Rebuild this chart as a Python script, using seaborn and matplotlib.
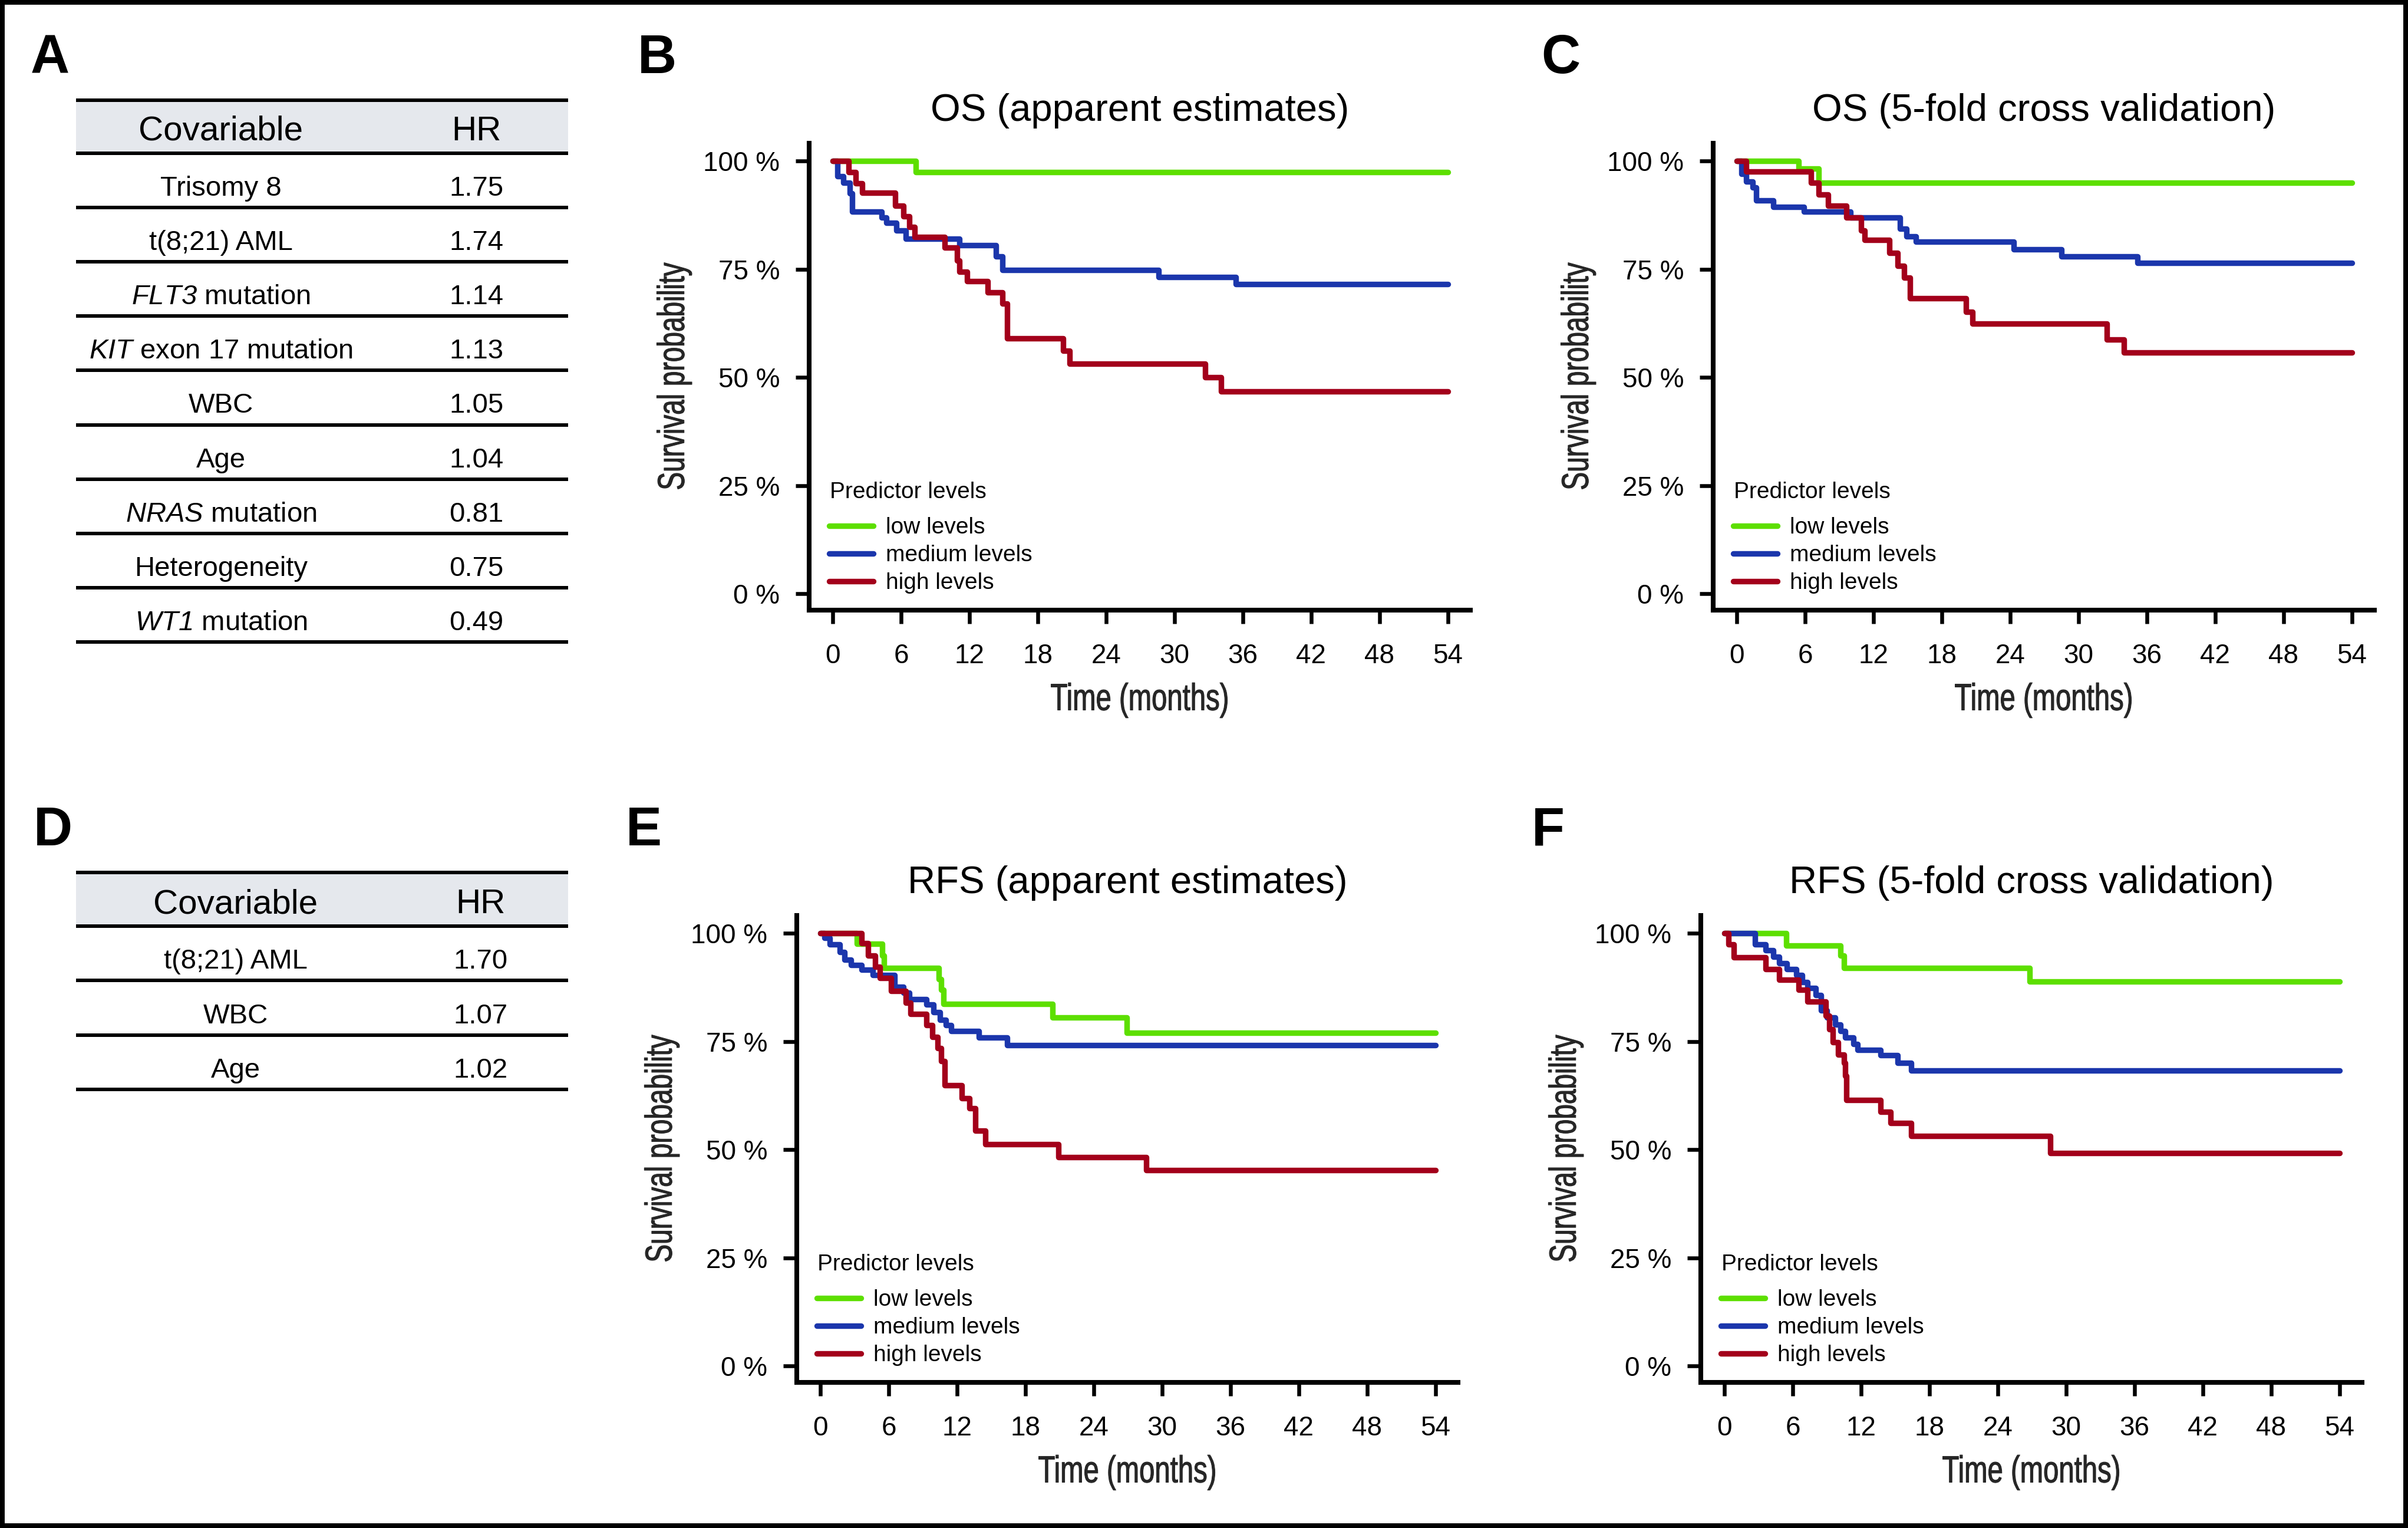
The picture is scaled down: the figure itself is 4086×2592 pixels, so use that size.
import numpy as np
import pandas as pd
import matplotlib
matplotlib.use("Agg")
import matplotlib.pyplot as plt
from matplotlib.patches import Rectangle
from matplotlib.patheffects import AbstractPathEffect
from matplotlib.transforms import Affine2D
import seaborn as sns

# ---------------- data ----------------
levels = ["low levels", "medium levels", "high levels"]
colors = ["#5ddf00", "#1b36ac", "#a3001b"]

# B: OS (apparent estimates)
os_app_low_t = [0, 7.3, 54]
os_app_low_s = [100, 97.4, 97.4]
os_app_med_t = [0, 0.4, 0.9, 1.5, 1.7, 4.3, 4.7, 5.6, 6.4, 11.1, 14.3, 14.9, 28.6, 35.4, 54]
os_app_med_s = [100, 96.5, 95.0, 92.5, 88.3, 87.0, 85.7, 84.0, 82.0, 80.5, 78.0, 74.8, 73.2, 71.5, 71.5]
os_app_high_t = [0, 1.4, 2.0, 2.6, 5.5, 6.2, 6.7, 7.2, 9.8, 10.9, 11.1, 11.8, 13.6, 14.9, 15.3,
                 20.2, 20.8, 32.7, 34.1, 54]
os_app_high_s = [100, 97.4, 94.8, 92.6, 89.6, 87.2, 84.8, 82.4, 80.0, 77.0, 74.4, 72.2, 69.6, 67.0, 59.0,
                 56.1, 53.1, 50.0, 46.8, 46.8]

# C: OS (5-fold cross validation)
os_cv_low_t = [0, 5.4, 7.2, 54]
os_cv_low_s = [100, 98.3, 95.0, 95.0]
os_cv_med_t = [0, 0.4, 0.8, 1.4, 1.7, 3.2, 5.9, 10.0, 14.3, 14.9, 15.7, 24.3, 28.5, 35.2, 54]
os_cv_med_s = [100, 97.0, 95.2, 93.9, 90.9, 89.4, 88.3, 87.0, 84.4, 82.6, 81.3, 79.6, 78.0, 76.4, 76.4]
os_cv_high_t = [0, 0.8, 6.5, 7.2, 8.0, 9.6, 10.9, 11.2, 13.4, 14.1, 14.7, 15.2, 20.1, 20.7, 32.5, 34.0, 54]
os_cv_high_s = [100, 97.6, 95.0, 92.2, 89.6, 87.0, 84.0, 81.8, 78.7, 75.7, 73.1, 68.3, 65.2, 62.4, 58.7,
                55.7, 55.7]

# E: RFS (apparent estimates)
rfs_app_low_t = [0, 3.2, 5.4, 5.6, 10.4, 10.6, 10.8, 20.4, 26.9, 54]
rfs_app_low_s = [100, 97.6, 94.9, 92.0, 89.4, 86.9, 83.7, 80.5, 77.0, 77.0]
rfs_app_med_t = [0, 0.35, 0.84, 1.7, 2.1, 2.7, 3.6, 4.6, 6.5, 7.3, 7.8, 9.3, 9.9, 10.5, 11.0, 11.5, 13.9,
                 16.4, 54]
rfs_app_med_s = [100, 98.9, 97.4, 95.7, 93.9, 92.6, 91.6, 90.4, 87.6, 86.2, 84.8, 83.5, 81.8, 80.0, 78.7,
                 77.4, 75.9, 74.1, 74.1]
rfs_app_high_t = [0, 3.6, 4.2, 4.8, 5.2, 6.2, 7.5, 7.9, 9.3, 9.8, 10.3, 10.6, 10.9, 12.4, 13.1, 13.6, 14.5,
                  20.9, 28.6, 54]
rfs_app_high_s = [100, 97.7, 94.8, 92.2, 89.6, 86.7, 83.9, 81.3, 78.7, 76.1, 73.5, 70.5, 64.8, 61.8, 59.6,
                  54.4, 51.3, 48.3, 45.3, 45.3]

# F: RFS (5-fold cross validation)
rfs_cv_low_t = [0, 5.4, 10.2, 10.5, 26.8, 54]
rfs_cv_low_s = [100, 97.2, 94.8, 92.0, 88.9, 88.9]
rfs_cv_med_t = [0, 2.7, 3.6, 4.3, 4.8, 5.5, 6.3, 6.8, 7.3, 8.0, 8.5, 9.0, 9.7, 10.2, 10.6, 11.3, 11.7,
                13.7, 15.2, 16.4, 54]
rfs_cv_med_s = [100, 97.4, 96.1, 94.5, 93.1, 91.7, 90.4, 88.7, 87.4, 85.7, 82.2, 80.5, 78.9, 77.4, 75.9,
                74.4, 73.1, 71.8, 70.0, 68.3, 68.3]
rfs_cv_high_t = [0, 0.35, 0.84, 3.6, 4.8, 6.5, 7.3, 8.9, 9.2, 9.5, 10.0, 10.5, 10.6, 10.7, 13.7, 14.6,
                 16.4, 28.6, 54]
rfs_cv_high_s = [100, 97.4, 94.4, 91.7, 89.3, 87.0, 84.2, 80.9, 77.8, 74.8, 72.0, 70.0, 67.0, 61.5, 58.7,
                 56.1, 53.1, 49.2, 49.2]

# tables A and D
covars_a = ["Trisomy 8", "t(8;21) AML", r"$\mathsf{FLT3}$ mutation", r"$\mathsf{KIT}$ exon 17 mutation",
            "WBC", "Age", r"$\mathsf{NRAS}$ mutation", "Heterogeneity", r"$\mathsf{WT1}$ mutation"]
hr_a = ["1.75", "1.74", "1.14", "1.13", "1.05", "1.04", "0.81", "0.75", "0.49"]
covars_d = ["t(8;21) AML", "WBC", "Age"]
hr_d = ["1.70", "1.07", "1.02"]

x_ticks = [0, 6, 12, 18, 24, 30, 36, 42, 48, 54]
y_ticks = [0, 25, 50, 75, 100]


# squeeze text horizontally and thicken it a little (axis titles use a condensed medium face)
class Condense(AbstractPathEffect):
    def __init__(self, sx, stroke=0.8):
        super().__init__()
        self.sx = sx
        self.stroke = stroke

    def draw_path(self, renderer, gc, tpath, affine, rgbFace=None):
        ext = tpath.get_extents()
        cx = (ext.x0 + ext.x1) / 2
        t = Affine2D().translate(-cx, 0).scale(self.sx, 1).translate(cx, 0) + affine
        gc0 = renderer.new_gc()
        gc0.copy_properties(gc)
        gc0.set_linewidth(self.stroke)
        gc0.set_foreground(rgbFace)
        gc0.set_joinstyle('round')
        renderer.draw_path(gc0, tpath, t, rgbFace)
        gc0.restore()


# ---------------- style ----------------
sns.set_style("ticks")
plt.rcParams['font.family'] = ['Liberation Sans', 'DejaVu Sans']
plt.rcParams['mathtext.fontset'] = 'custom'
plt.rcParams['mathtext.rm'] = 'Liberation Sans'
plt.rcParams['mathtext.it'] = 'Liberation Sans:italic'
plt.rcParams['mathtext.sf'] = 'Liberation Sans:italic'
plt.rcParams['text.color'] = 'black'
plt.rcParams['xtick.color'] = 'black'
plt.rcParams['ytick.color'] = 'black'

W, H = 4086, 2592
fig = plt.figure(figsize=(W / 100, H / 100), dpi=100)

# overlay in pixel coords for tables and panel letters
ov = fig.add_axes([0, 0, 1, 1])
ov.set_xlim(0, W)
ov.set_ylim(H, 0)
ov.axis('off')


def draw_table(top, head_h, row_h, rows, hrs, c1, c2):
    x0, x1 = 129, 964
    ov.add_patch(Rectangle((x0, top), x1 - x0, head_h, color="#e5e8ed", lw=0))
    ys = [top, top + head_h] + [top + head_h + row_h * (i + 1) for i in range(len(rows))]
    ov.hlines(ys, x0, x1, color='black', lw=4.3)
    ov.text(c1, top + head_h - 22, "Covariable", fontsize=42, ha='center', va='baseline')
    ov.text(c2, top + head_h - 22, "HR", fontsize=42, ha='center', va='baseline')
    for i, (r, h) in enumerate(zip(rows, hrs)):
        yb = top + head_h + row_h * (i + 1) - 20
        ov.text(c1, yb, r, fontsize=34, ha='center', va='baseline')
        ov.text(c2, yb, h, fontsize=34, ha='center', va='baseline')


draw_table(170, 90, 92.1, covars_a, hr_a, 375, 808)
draw_table(1480, 91, 92.3, covars_d, hr_d, 400, 815)

for letter, x, y in [("A", 52, 124), ("B", 1082, 124), ("C", 2615, 124),
                     ("D", 57, 1434), ("E", 1062, 1434), ("F", 2599, 1434)]:
    ov.text(x, y, letter, fontsize=66, fontweight='bold', ha='left', va='baseline')

panels = [
    ([1373 / W, 1 - 1035 / H, 1122 / W, 792 / H], "OS (apparent estimates)",
     [(os_app_low_t, os_app_low_s), (os_app_med_t, os_app_med_s), (os_app_high_t, os_app_high_s)]),
    ([2907 / W, 1 - 1035 / H, 1122 / W, 792 / H], "OS (5-fold cross validation)",
     [(os_cv_low_t, os_cv_low_s), (os_cv_med_t, os_cv_med_s), (os_cv_high_t, os_cv_high_s)]),
    ([1352 / W, 1 - 2345 / H, 1122 / W, 792 / H], "RFS (apparent estimates)",
     [(rfs_app_low_t, rfs_app_low_s), (rfs_app_med_t, rfs_app_med_s), (rfs_app_high_t, rfs_app_high_s)]),
    ([2886 / W, 1 - 2345 / H, 1122 / W, 792 / H], "RFS (5-fold cross validation)",
     [(rfs_cv_low_t, rfs_cv_low_s), (rfs_cv_med_t, rfs_cv_med_s), (rfs_cv_high_t, rfs_cv_high_s)]),
]

for rect, title, curves in panels:
    ax = fig.add_axes(rect)
    df = pd.concat([pd.DataFrame({'time': t, 'surv': s, 'level': lev})
                    for (t, s), lev in zip(curves, levels)], ignore_index=True)
    sns.lineplot(data=df, x='time', y='surv', hue='level', hue_order=levels, palette=colors,
                 drawstyle='steps-post', estimator=None, sort=False, legend=False,
                 linewidth=6.8, ax=ax)
    ax.set_xlim(-2.08, 55.98)
    ax.set_ylim(-3.8, 104.1)
    ax.set_xticks(x_ticks)
    ax.set_xticklabels([str(v) for v in x_ticks])
    ax.set_yticks(y_ticks)
    ax.set_yticklabels([f"{v} %" for v in y_ticks])
    sns.despine(ax=ax)
    for sp in ['left', 'bottom']:
        ax.spines[sp].set_linewidth(5.8)
        ax.spines[sp].set_color('black')
    ax.tick_params(direction='out', length=16.5, width=4.7, labelsize=33, color='black')
    ax.tick_params(axis='x', pad=24)
    ax.tick_params(axis='y', pad=19.4)
    ax.set_title(title, fontsize=47, pad=27.4)
    ax.set_xlabel("Time (months)", fontsize=46, labelpad=16)
    ax.set_ylabel("Survival probability", fontsize=46, labelpad=14)
    ax.xaxis.label.set_path_effects([Condense(0.74)])
    ax.yaxis.label.set_path_effects([Condense(0.72)])

    ax.text(0.031, 0.240, "Predictor levels", transform=ax.transAxes, fontsize=28,
            ha='left', va='baseline')
    ax.legend(ax.get_lines()[:3], levels, loc='upper left', bbox_to_anchor=(0.030, 0.199),
              frameon=False, fontsize=28, handlelength=1.93, handletextpad=0.54,
              labelspacing=0.28, borderpad=0, borderaxespad=0)

# outer frame
fig.add_artist(Rectangle((0, 0), 1, 1, transform=fig.transFigure, fill=False,
                         edgecolor='black', lw=11.5))

fig.savefig("out.png", dpi=100)
